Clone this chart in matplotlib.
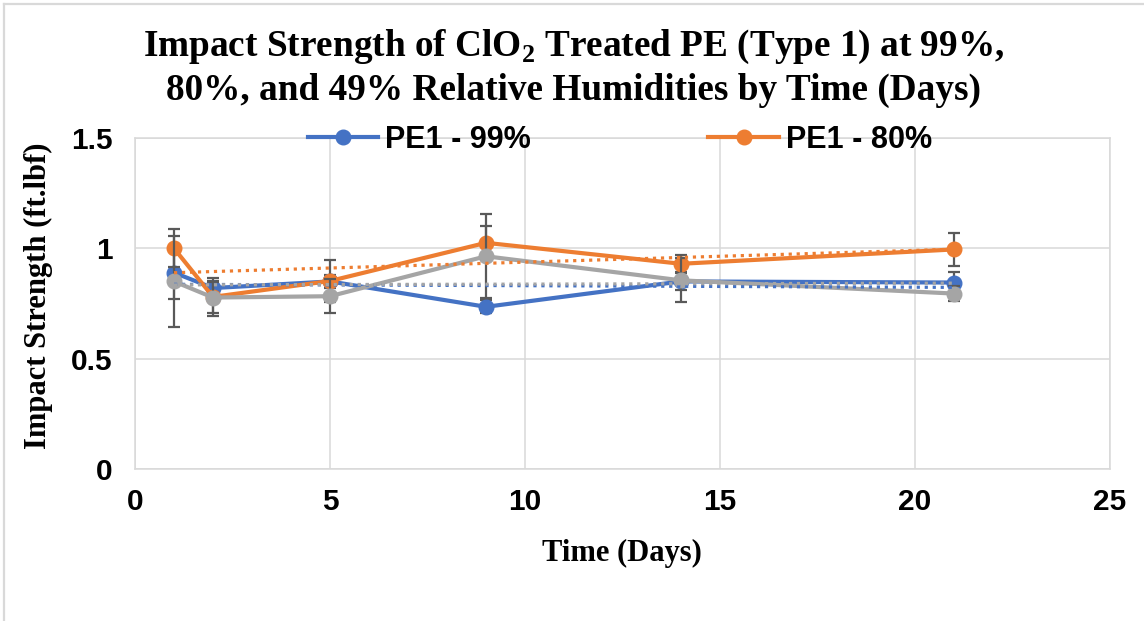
import numpy as np
import matplotlib
matplotlib.use("Agg")
import matplotlib.pyplot as plt
from matplotlib.lines import Line2D

# Impact strength readings (ft.lbf) by day, with standard deviations
days = [1, 2, 5, 9, 14, 21]
pe99 = [0.89, 0.82, 0.85, 0.735, 0.85, 0.845]
pe99_err = [0.12, 0.03, 0.03, 0.03, 0.04, 0.05]
pe80 = [1.00, 0.78, 0.852, 1.025, 0.93, 0.995]
pe80_err = [0.086, 0.087, 0.094, 0.077, 0.038, 0.075]
pe49 = [0.85, 0.777, 0.783, 0.964, 0.855, 0.795]
pe49_err = [0.206, 0.07, 0.076, 0.19, 0.10, 0.035]

labels = ["PE1 - 99%", "PE1 - 80%", "PE1 - 49%"]
colors = ["#4472C4", "#ED7D31", "#A5A5A5"]

W, H = 1144, 621
fig = plt.figure(figsize=(W / 100, H / 100), dpi=100)

# chart area border (top and left edges only)
fig.add_artist(Line2D([4 / W, 4 / W], [0, 1 - 4 / H], color="#D9D9D9", lw=1.6,
                      transform=fig.transFigure))
fig.add_artist(Line2D([4 / W, 1], [1 - 4 / H, 1 - 4 / H], color="#D9D9D9", lw=1.6,
                      transform=fig.transFigure))

left, right, top, bottom = 135, 1110, 138, 469
ax = fig.add_axes([left / W, 1 - bottom / H, (right - left) / W, (bottom - top) / H])

handles = []
for i, (y, e) in enumerate([(pe99, pe99_err), (pe80, pe80_err), (pe49, pe49_err)]):
    ax.errorbar(days, y, yerr=e, fmt="none", ecolor="#595959", elinewidth=1.6,
                capsize=4.3, capthick=1.6, zorder=3 + 2 * i)
    h, = ax.plot(days, y, color=colors[i], lw=3.0, marker="o", markersize=10.5,
                 zorder=4 + 2 * i, label=labels[i])
    handles.append(h)

# linear trend lines over the sampled range
for i, y in enumerate([pe99, pe80, pe49]):
    k, b = np.polyfit(days, y, 1)
    xs = np.array([days[0], days[-1]])
    ax.plot(xs, k * xs + b, color=colors[i], lw=2.3, linestyle=(0, (1, 1.5)),
            zorder=10)

ax.set_xlim(0, 25)
ax.set_ylim(0, 1.5)
ax.set_xticks([0, 5, 10, 15, 20, 25])
ax.set_yticks([0, 0.5, 1, 1.5])
ax.set_yticklabels(["0", "0.5", "1", "1.5"])
ax.grid(True, color="#D9D9D9", lw=1.1, zorder=0)
ax.set_axisbelow(True)
for s in ax.spines.values():
    s.set_color("#D9D9D9")
    s.set_linewidth(1.1)
ax.tick_params(length=0, labelsize=21.5, pad=14)
for t in ax.get_xticklabels() + ax.get_yticklabels():
    t.set_fontfamily("Liberation Sans")
    t.set_fontweight("bold")
ax.tick_params(axis="y", pad=16)

serif = "Liberation Serif"
plt.rcParams["mathtext.fontset"] = "custom"
plt.rcParams["mathtext.bf"] = "Liberation Serif:bold"
plt.rcParams["mathtext.rm"] = "Liberation Serif:bold"

fig.text(574 / W, 1 - 47 / H,
         r"Impact Strength of ClO$_{\mathbf{2}}$ Treated PE (Type 1) at 99%,",
         ha="center", va="center", fontsize=26.8, fontweight="bold", family=serif)
fig.text(574 / W, 1 - 90 / H,
         "80%, and 49% Relative Humidities by Time (Days)",
         ha="center", va="center", fontsize=26.8, fontweight="bold", family=serif)
fig.text(622 / W, 1 - 553 / H, "Time (Days)", ha="center", va="center",
         fontsize=22, fontweight="bold", family=serif)
fig.text(38 / W, 1 - 296 / H, "Impact Strength (ft.lbf)", ha="center", va="center",
         rotation=90, fontsize=22, fontweight="bold", family=serif)

leg = fig.legend(handles[:2], labels[:2], loc="center", ncol=2,
                 bbox_to_anchor=(620 / W, 1 - 140 / H), frameon=False,
                 prop={"family": "Liberation Sans", "weight": "bold", "size": 22},
                 handlelength=2.3, handletextpad=0.25, columnspacing=5.8,
                 borderpad=0, borderaxespad=0)

fig.savefig("out.png", dpi=100, facecolor="white")
